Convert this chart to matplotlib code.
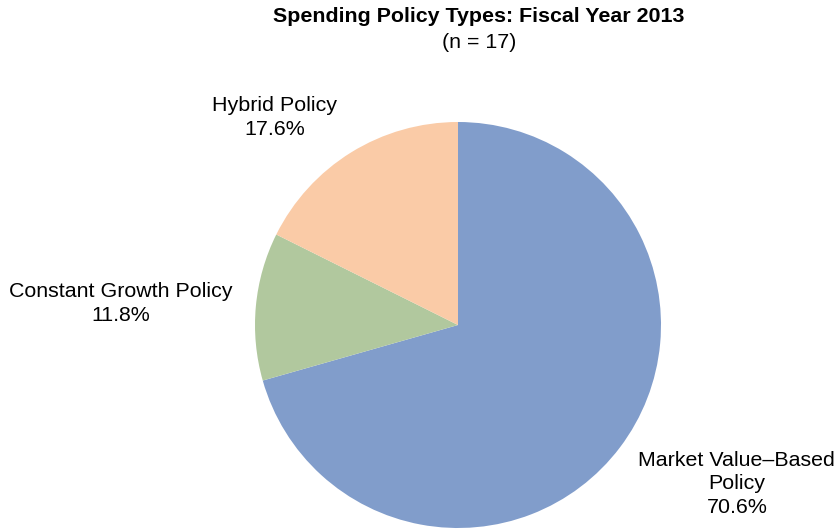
import matplotlib.pyplot as plt

plt.rcParams['font.family'] = ['Liberation Sans', 'DejaVu Sans']

# policy counts for FY2013 (n = 17)
policies = ['Market Value\u2013Based\nPolicy', 'Constant Growth Policy', 'Hybrid Policy']
counts = [12, 2, 3]
colors = ['#819DCB', '#B1C89E', '#FACBA7']

fig = plt.figure(figsize=(8.4, 5.31), dpi=100)
ax = fig.add_axes([255 / 840, 3 / 531, 406 / 840, 406 / 531])
wedges, _ = ax.pie(counts, colors=colors, startangle=90, counterclock=False,
                   radius=1, wedgeprops=dict(linewidth=0))
ax.set_xlim(-1, 1)
ax.set_ylim(-1, 1)
ax.set_aspect('equal')

total = sum(counts)
label_pos = [(1.374, -0.783), (-1.66, 0.106), (-0.904, 1.022)]
for name, c, (x, y) in zip(policies, counts, label_pos):
    ax.text(x, y, f'{name}\n{c / total * 100:.1f}%', ha='center', va='center',
            fontsize=15.4, linespacing=1.3, clip_on=False)

fig.text(479 / 840, 1 - 17 / 531, 'Spending Policy Types: Fiscal Year 2013',
         ha='center', va='center', fontsize=15.4, fontweight='bold')
fig.text(479 / 840, 1 - 42 / 531, '(n = 17)', ha='center', va='center', fontsize=15.4)

fig.savefig('out.png', dpi=100)
